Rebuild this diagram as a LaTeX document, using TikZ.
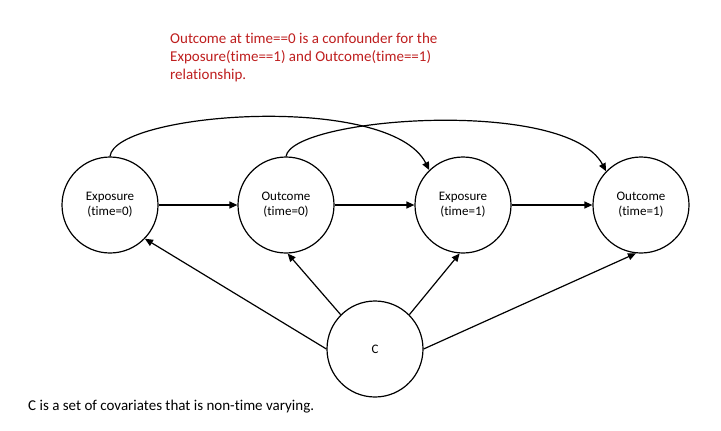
\documentclass[tikz,border=0pt]{standalone}
\usepackage{fontspec}
\setmainfont[Ligatures=NoCommon]{Carlito}
\usetikzlibrary{arrows.meta}
\definecolor{redtext}{RGB}{190,30,30}
\tikzset{
  var/.style={circle,draw,line width=1.2bp,minimum size=96bp,inner sep=0pt,align=center,font=\fontsize{13bp}{15bp}\selectfont},
  edge/.style={line width=1.2bp,-{Triangle[length=8bp,width=7bp]}},
  plain/.style={line width=1.2bp}
}
\begin{document}
\begin{tikzpicture}[x=1bp,y=-1bp]
\useasboundingbox (0,0) rectangle (721,430);
\node[var] (E0) at (110,205) {Exposure\\(time=0)};
\node[var] (O0) at (286,205) {Outcome\\(time=0)};
\node[var] (E1) at (463,205) {Exposure\\(time=1)};
\node[var] (O1) at (641,205) {Outcome\\(time=1)};
\node[var] (C) at (375,349) {C};
\draw[edge] (E0) -- (O0);
\draw[edge] (O0) -- (E1);
\draw[edge] (E1) -- (O1);
\draw[edge] (E0.north) .. controls (115,112) and (390,92) .. (E1.134);
\draw[edge] (O0.north) .. controls (292,117) and (567,97) .. (O1.136);
\draw[edge] (C.west) -- (E0.-44);
\draw[edge] (C.135) -- (O0.-88);
\draw[edge] (C.45) -- (E1.-94);
\draw[edge] (C.east) -- (O1.-96);
\node[anchor=base west,inner sep=0pt,align=left,text=redtext,font=\fontsize{15bp}{18bp}\selectfont] (note) at (170,79) {Outcome at time==0 is a confounder for the\\Exposure(time==1) and Outcome(time==1)\\relationship.};
\node[anchor=base west,inner sep=0pt,font=\fontsize{15bp}{18bp}\selectfont] (cnote) at (28,410) {C is a set of covariates that is non-time varying.};
\end{tikzpicture}
\end{document}
